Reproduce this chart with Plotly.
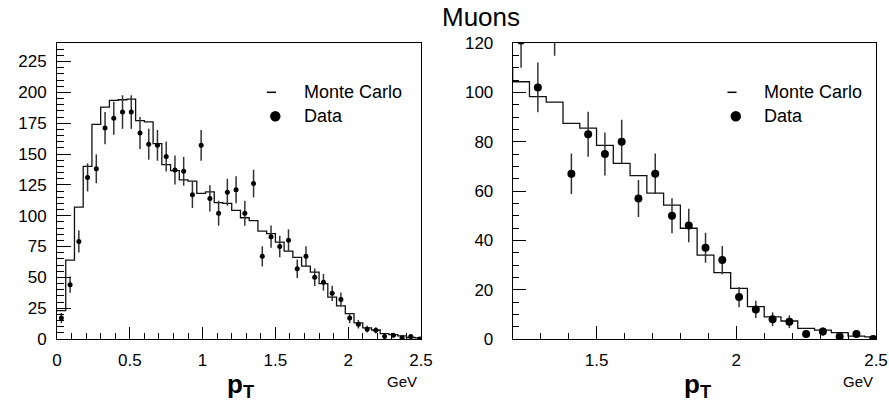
import plotly.graph_objects as go

# ---- data ----
bin_width = 0.06
data_x = [0.03, 0.09, 0.15, 0.21, 0.27, 0.33, 0.39, 0.45, 0.51, 0.57, 0.63, 0.69, 0.75, 0.81,
          0.87, 0.93, 0.99, 1.05, 1.11, 1.17, 1.23, 1.29, 1.35, 1.41, 1.47, 1.53, 1.59, 1.65,
          1.71, 1.77, 1.83, 1.89, 1.95, 2.01, 2.07, 2.13, 2.19, 2.25, 2.31, 2.37, 2.43, 2.49]
data_y = [17, 44, 79, 131, 138, 171, 179, 184, 184, 167, 158, 157, 148, 137,
          136, 117, 157, 114, 102, 119, 121, 102, 126, 67, 83, 75, 80, 57,
          67, 50, 46, 37, 32, 17, 12, 8, 7, 2, 3, 1, 2, 0]
data_err = [4.1, 6.6, 8.9, 11.4, 11.7, 13.1, 13.4, 13.6, 13.6, 12.9, 12.6, 12.5, 12.2, 11.7,
            11.7, 10.8, 12.5, 10.7, 10.1, 10.9, 11.0, 10.1, 11.2, 8.2, 9.1, 8.7, 8.9, 7.5,
            8.2, 7.1, 6.8, 6.1, 5.7, 4.1, 3.5, 2.8, 2.6, 1.4, 1.7, 1.0, 1.4, 0.0]

mc_edges = [0.0, 0.06, 0.12, 0.18, 0.24, 0.30, 0.36, 0.42, 0.48, 0.54, 0.60, 0.66, 0.72, 0.78,
            0.84, 0.90, 0.96, 1.02, 1.08, 1.14, 1.20, 1.26, 1.32, 1.38, 1.44, 1.50, 1.56, 1.62,
            1.68, 1.74, 1.80, 1.86, 1.92, 1.98, 2.04, 2.10, 2.16, 2.22, 2.28, 2.34, 2.40, 2.46, 2.52]
mc_y = [23, 64, 107, 140, 174, 188, 193.5, 194, 194.5, 177, 176, 158.4, 141.4, 136.5,
        129, 128, 118, 119.3, 110.5, 110, 104.3, 98.3, 96, 87.4, 85.5, 78.5, 71.2, 66.2,
        59.1, 54.3, 44.9, 34.0, 26.9, 20.5, 13.1, 9.0, 7.3, 4.3, 3.6, 2.6, 1.2, 0.9]

left_xticks = [0, 0.5, 1, 1.5, 2, 2.5]
left_xticklabels = ["0", "0.5", "1", "1.5", "2", "2.5"]
right_xticks = [1.5, 2, 2.5]
right_xticklabels = ["1.5", "2", "2.5"]

W, H = 889, 404
FONT = "Liberation Sans, Arial, Helvetica, sans-serif"


def px(x):
    return x / W


def py(y):
    return 1 - y / H


mc_step_y = mc_y + [mc_y[-1]]

fig = go.Figure()
for xa, ya, msize in (("x", "y", 5), ("x2", "y2", 8)):
    fig.add_trace(go.Scatter(
        x=mc_edges, y=mc_step_y, mode="lines", line_shape="hv",
        line=dict(color="#111111", width=1.3), xaxis=xa, yaxis=ya,
        showlegend=False, hoverinfo="skip"))
    fig.add_trace(go.Scatter(
        x=data_x, y=data_y, mode="markers",
        marker=dict(color="black", size=msize),
        error_y=dict(type="data", array=data_err, visible=True, width=0,
                     thickness=1.5, color="#333333"),
        xaxis=xa, yaxis=ya, showlegend=False))

axis_common = dict(showline=True, linecolor="black", linewidth=1, mirror=True,
                   showgrid=False, zeroline=False, ticks="inside", tickcolor="black",
                   tickwidth=1, automargin=False,
                   tickfont=dict(family=FONT, size=17, color="black"))

fig.update_layout(
    template="none",
    width=W, height=H, margin=dict(l=0, r=0, t=0, b=0, pad=0, autoexpand=False),
    paper_bgcolor="white", plot_bgcolor="white", showlegend=False,
    font=dict(family=FONT, color="black"),
    xaxis=dict(domain=[px(57), px(421)], range=[0, 2.5], anchor="y",
               tickmode="array", tickvals=left_xticks, ticktext=left_xticklabels,
               ticklen=12, ticklabelstandoff=6,
               minor=dict(ticks="inside", ticklen=6, dtick=0.1, tick0=0, tickcolor="black"),
               **axis_common),
    yaxis=dict(domain=[py(339), py(43)], range=[0, 240], anchor="x",
               dtick=25, tick0=0, ticklen=14, ticklabelstandoff=6,
               minor=dict(ticks="inside", ticklen=7, dtick=5, tick0=0, tickcolor="black"),
               **axis_common),
    xaxis2=dict(domain=[px(512.7), px(876)], range=[1.2, 2.5], anchor="y2",
                tickmode="array", tickvals=right_xticks, ticktext=right_xticklabels,
                ticklen=13, ticklabelstandoff=6,
                minor=dict(ticks="inside", ticklen=6, dtick=0.1, tick0=0, tickcolor="black"),
                **axis_common),
    yaxis2=dict(domain=[py(339), py(43)], range=[0, 120], anchor="x2",
                dtick=20, tick0=0, ticklen=13, ticklabelstandoff=15,
                minor=dict(ticks="inside", ticklen=6, dtick=5, tick0=0, tickcolor="black"),
                **axis_common),
)

annotations = [
    dict(x=px(481), y=py(17), text="Muons", font=dict(size=26)),
    dict(x=px(240), y=py(385), text="<b>p<sub>T</sub></b>", font=dict(size=26)),
    dict(x=px(697), y=py(385), text="<b>p<sub>T</sub></b>", font=dict(size=26)),
    dict(x=px(402), y=py(381), text="GeV", font=dict(size=15)),
    dict(x=px(858), y=py(381), text="GeV", font=dict(size=15)),
    dict(x=px(301.7), y=py(92.5), text="Monte Carlo", xanchor="left", font=dict(size=18)),
    dict(x=px(301.7), y=py(116.3), text="Data", xanchor="left", font=dict(size=18)),
    dict(x=px(762), y=py(92.5), text="Monte Carlo", xanchor="left", font=dict(size=18)),
    dict(x=px(762), y=py(116.3), text="Data", xanchor="left", font=dict(size=18)),
]
for a in annotations:
    a.setdefault("xanchor", "center")
    a.update(xref="paper", yref="paper", yanchor="middle", showarrow=False)
    a["font"].update(family=FONT, color="black")
fig.update_layout(annotations=annotations)

shapes = []
for dash_x0, dot_cx in ((267, 275.3), (727.5, 735.8)):
    shapes.append(dict(type="line", xref="paper", yref="paper",
                       x0=px(dash_x0), x1=px(dash_x0 + 9), y0=py(92.3), y1=py(92.3),
                       line=dict(color="black", width=1.5)))
    r = 5.2
    shapes.append(dict(type="circle", xref="paper", yref="paper",
                       x0=px(dot_cx - r), x1=px(dot_cx + r), y0=py(116.3 + r), y1=py(116.3 - r),
                       fillcolor="black", line=dict(color="black", width=0)))
fig.update_layout(shapes=shapes)

fig.write_html("out.html")
